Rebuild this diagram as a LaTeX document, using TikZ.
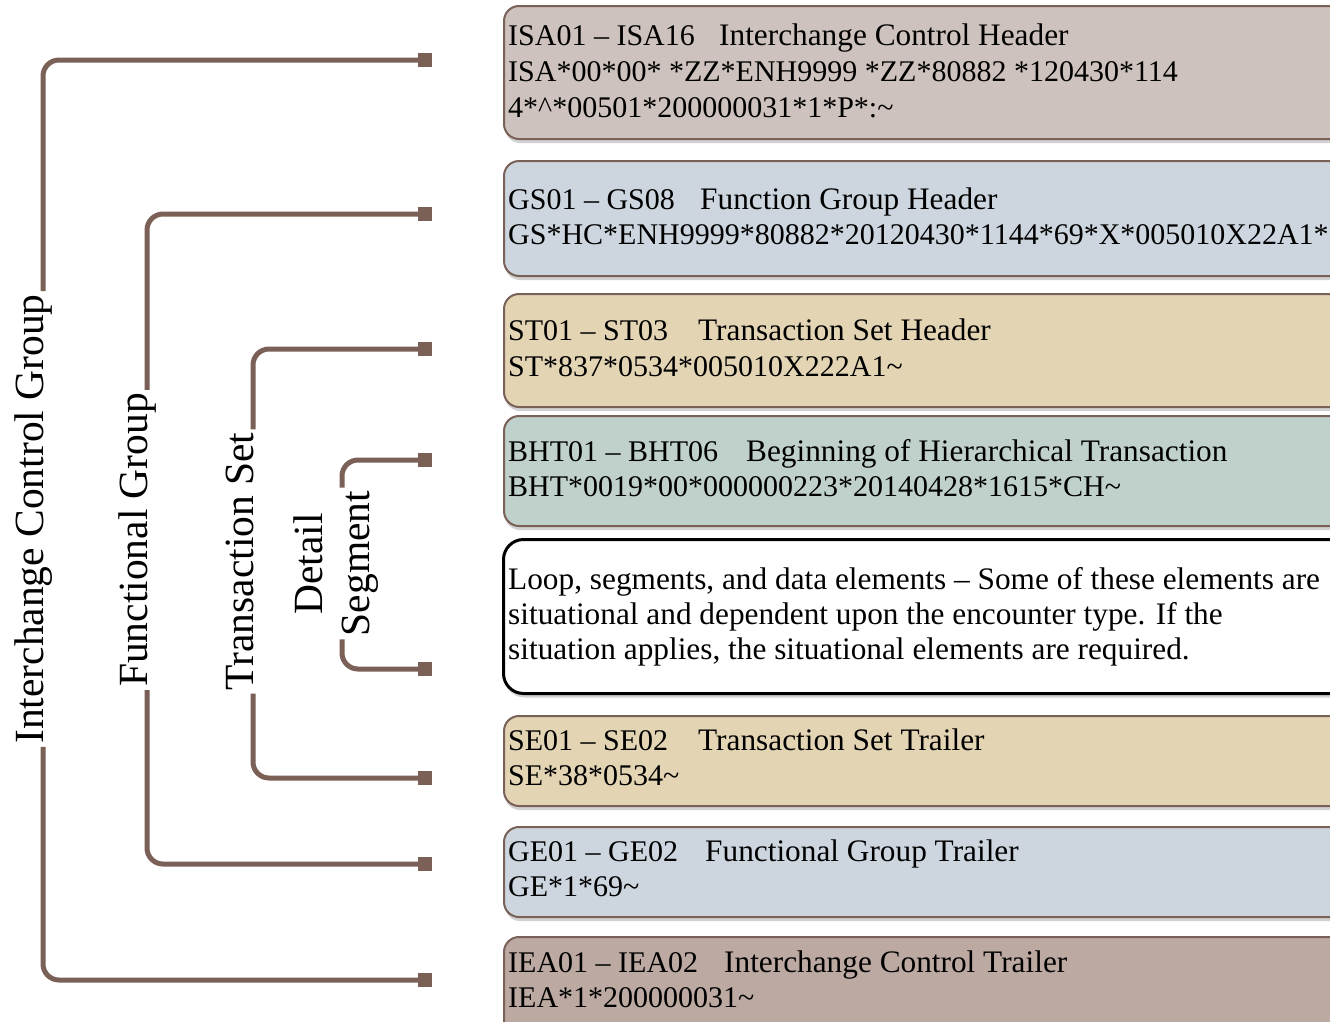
\documentclass[tikz,border=0pt]{standalone}
\usepackage{fontspec}
\setmainfont{Liberation Serif}
\usetikzlibrary{shadows}
\definecolor{brkc}{HTML}{7A6056}
\definecolor{bordc}{HTML}{7A6158}
\definecolor{cISA}{HTML}{CDC2BD}
\definecolor{cGS}{HTML}{CDD6DF}
\definecolor{cST}{HTML}{E3D4B4}
\definecolor{cBHT}{HTML}{BFD1CA}
\definecolor{cIEA}{HTML}{BCAAA2}
\newcommand\bxfont{\fontsize{30}{36}\selectfont}
\newcommand\prfont{\fontsize{31.3}{36}\selectfont}
\newcommand\sidefont{\fontsize{41.5}{48}\selectfont}
\tikzset{
  segbox/.style={rectangle, rounded corners=15pt, draw=bordc, line width=2pt,
    anchor=north west, minimum width=850pt, inner sep=0pt,
    drop shadow={shadow xshift=1pt, shadow yshift=-4pt, fill=black, opacity=0.18}},
  txt/.style={anchor=base west, inner sep=0pt, font=\bxfont},
  prose/.style={anchor=base west, inner sep=0pt, font=\prfont},
  side/.style={rotate=90, anchor=base, inner xsep=3pt, inner ysep=0pt, font=\sidefont},
  sqm/.style={rectangle, fill=brkc, minimum size=14pt, inner sep=0pt},
  brk/.style={draw=brkc, line width=5pt, rounded corners=16pt},
}
\begin{document}
\begin{tikzpicture}[x=1pt,y=-1pt]
\useasboundingbox (0,0) rectangle (1330,1021);
\clip (0,0) rectangle (1330,1021);

% boxes
\node[segbox, fill=cISA, minimum height=133pt] (bISA) at (503,5) {};
\node[segbox, fill=cGS,  minimum height=115pt] (bGS)  at (503,160) {};
\node[segbox, fill=cST,  minimum height=113pt] (bST)  at (503,293) {};
\node[segbox, fill=cBHT, minimum height=110pt] (bBHT) at (503,415) {};
\node[segbox, fill=white, draw=black, line width=3pt, rounded corners=20pt, minimum height=154pt] (bLoop) at (502,538) {};
\node[segbox, fill=cST,  minimum height=90pt]  (bSE)  at (503,715) {};
\node[segbox, fill=cGS,  minimum height=90pt]  (bGE)  at (503,826) {};
\node[segbox, fill=cIEA, minimum height=110pt] (bIEA) at (503,936) {};

% box texts
\node[txt] (tISAa) at (508,45) {ISA01 – ISA16};
\node[prose] (tISAb) at (719,45) {Interchange Control Header};
\node[txt] (tISAc) at (508,81) {ISA*00*00* *ZZ*ENH9999 *ZZ*80882 *120430*114};
\node[txt] (tISAd) at (508,117) {4*\textasciicircum*00501*200000031*1*P*:\textasciitilde};

\node[txt] (tGSa) at (508,209) {GS01 – GS08};
\node[prose] (tGSb) at (700,209) {Function Group Header};
\node[txt] (tGSc) at (508,244) {GS*HC*ENH9999*80882*20120430*1144*69*X*005010X22A1*};

\node[txt] (tSTa) at (508,340) {ST01 – ST03};
\node[prose] (tSTb) at (698,340) {Transaction Set Header};
\node[txt] (tSTc) at (508,376) {ST*837*0534*005010X222A1\textasciitilde};

\node[txt] (tBHTa) at (508,461) {BHT01 – BHT06};
\node[prose] (tBHTb) at (746,461) {Beginning of Hierarchical Transaction};
\node[txt] (tBHTc) at (508,496) {BHT*0019*00*000000223*20140428*1615*CH\textasciitilde};

\node[prose] (tLa) at (508,589) {Loop, segments, and data elements – Some of these elements are};
\node[prose] (tLb) at (508,624) {situational and dependent upon the encounter type. If the};
\node[prose] (tLc) at (508,659) {situation applies, the situational elements are required.};

\node[txt] (tSEa) at (508,750) {SE01 – SE02};
\node[prose] (tSEb) at (698,750) {Transaction Set Trailer};
\node[txt] (tSEc) at (508,785) {SE*38*0534\textasciitilde};

\node[txt] (tGEa) at (508,861) {GE01 – GE02};
\node[prose] (tGEb) at (705,861) {Functional Group Trailer};
\node[txt] (tGEc) at (508,896) {GE*1*69\textasciitilde};

\node[txt] (tIEAa) at (508,972) {IEA01 – IEA02};
\node[prose] (tIEAb) at (724,972) {Interchange Control Trailer};
\node[txt] (tIEAc) at (508,1007) {IEA*1*200000031\textasciitilde};

% markers
\node[sqm] (m1) at (425,60) {};
\node[sqm] (m2) at (425,214) {};
\node[sqm] (m3) at (425,349) {};
\node[sqm] (m4) at (425,460) {};
\node[sqm] (m5) at (425,669) {};
\node[sqm] (m6) at (425,778) {};
\node[sqm] (m7) at (425,864) {};
\node[sqm] (m8) at (425,980) {};

% side labels
\node[side] (lICG) at (43,519) {Interchange Control Group};
\node[side] (lFG) at (147,540) {Functional Group};
\node[side] (lTS) at (253,561.5) {Transaction Set};
\node[side] (lDet) at (322,564) {Detail};
\node[side, anchor=north] (lSeg) at (342,563.5) {Segment};

% brackets
\draw[brk] (m1.center) -| (lICG.base east);
\draw[brk] (lICG.base west) |- (m8.center);
\draw[brk] (m2.center) -| (lFG.base east);
\draw[brk] (lFG.base west) |- (m7.center);
\draw[brk] (m3.center) -| (lTS.base east);
\draw[brk] (lTS.base west) |- (m6.center);
\draw[brk] (m4.center) -| (lSeg.north east);
\draw[brk] (lSeg.north west) |- (m5.center);
\end{tikzpicture}
\end{document}
